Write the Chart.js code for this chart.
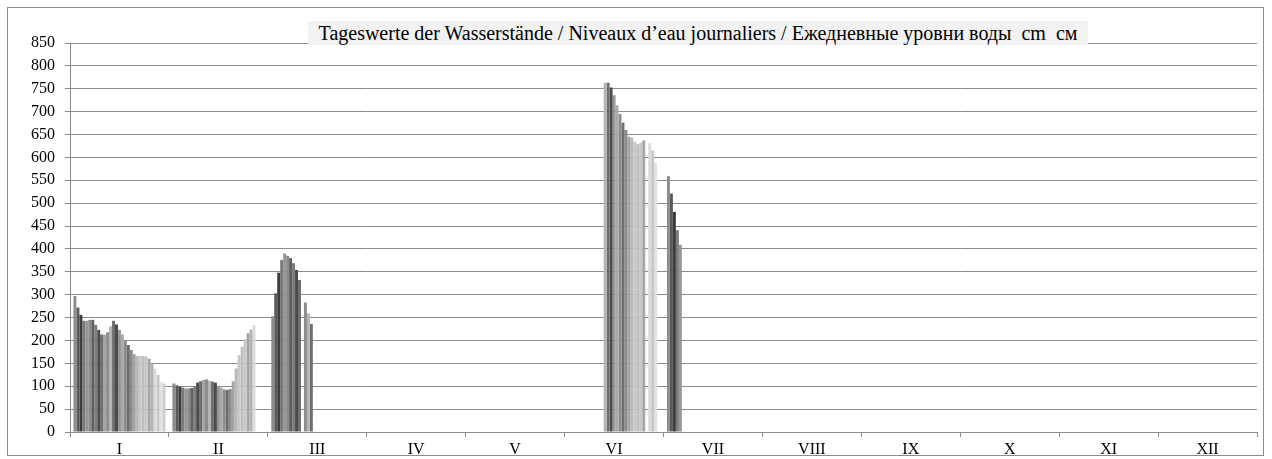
<!DOCTYPE html>
<html>
<head>
<meta charset="utf-8">
<script src="https://cdn.jsdelivr.net/npm/chart.js@4/dist/chart.umd.min.js"></script>
<style>
  body { margin: 0; background: #fff; }
  #wrap { position: relative; width: 1272px; height: 459px; }
  #frame { position: absolute; left: 7px; top: 7px; width: 1257px; height: 449px; border: 1px solid #8c8c8c; box-sizing: border-box; }
  #title {
    position: absolute; left: 308px; top: 21px; width: 780px; height: 24px;
    background: #f2f2f2; font-family: "Liberation Serif", "Times New Roman", serif;
    font-size: 20px; line-height: 24px; text-align: center; color: #000; white-space: pre;
  }
  canvas { position: absolute; left: 0; top: 0; }
</style>
</head>
<body>
<div id="wrap">
  <div id="frame"></div>
  <canvas id="levelChart" width="1272" height="459"></canvas>
  <div id="title">Tageswerte der Wasserstände / Niveaux d’eau journaliers / Ежедневные уровни воды  cm  см</div>
</div>
<script>
// month labels and daily values (cm), null = no value
const months = ['I', 'II', 'III', 'IV', 'V', 'VI', 'VII', 'VIII', 'IX', 'X', 'XI', 'XII'];

const jan = [297, 272, 256, 243, 243, 245, 245, 234, 223, 213, 213, 218, 231, 243, 235, 223,
  213, 199, 190, 179, 170, 166, 166, 166, 165, 160, 150, 139, 125, 110, 106];
const feb = [106, 102, 99, 97, 95, 95, 96, 100, 108, 111, 114, 115, 112, 110, 108, 100,
  97, 93, 92, 94, 111, 139, 168, 186, 203, 216, 224, 234];
const mar = [253, 303, 348, 376, 390, 385, 380, 369, 354, 332, null, 283, 259, 236];
const apr = [];
const may = [];
const jun = [null, null, null, null, null, null, null, null, null, null, null, null,
  763, 763, 753, 736, 714, 695, 676, 660, 645, 643, 634, 629, 632, 637, null, 631, 615, 588];
const jul = [559, 521, 481, 441, 409];
const aug = [];
const sep = [];
const oct = [];
const nov = [];
const dec = [];

const yTicks = [0, 850, 50]; // min, max, step

// one grey per day of month
const dayGreys = ['#8c8c8c', '#5a5a5a', '#3c3c3c', '#7a7a7a', '#969696', '#8a8a8a', '#5f5f5f', '#7d7d7d',
  '#4b4b4b', '#6e6e6e', '#a5a5a5', '#8c8c8c', '#b4b4b4', '#6e6e6e', '#4b4b4b', '#969696',
  '#aaaaaa', '#8c8c8c', '#6e6e6e', '#8c8c8c', '#a5a5a5', '#b9b9b9', '#c8c8c8', '#bebebe',
  '#c8c8c8', '#a5a5a5', '#b4b4b4', '#dcdcdc', '#c8c8c8', '#e1e1e1', '#cdcdcd'];

const allMonths = [jan, feb, mar, apr, may, jun, jul, aug, sep, oct, nov, dec];
const datasets = [];
for (let d = 0; d < 31; d++) {
  datasets.push({
    label: 'Tag ' + (d + 1),
    data: allMonths.map(m => (m[d] === undefined ? null : m[d])),
    backgroundColor: dayGreys[d],
    borderWidth: 0,
    categoryPercentage: 0.93,
    barPercentage: 1.0
  });
}

const font = { family: '"Liberation Serif", "Times New Roman", serif', size: 16 };

new Chart(document.getElementById('levelChart').getContext('2d'), {
  type: 'bar',
  data: { labels: months, datasets: datasets },
  options: {
    responsive: false,
    animation: false,
    layout: { padding: { left: 8, right: 15, top: 43, bottom: 0 } },
    plugins: { legend: { display: false }, tooltip: { enabled: false } },
    scales: {
      x: {
        grid: { drawOnChartArea: false, drawTicks: true, tickLength: 5, color: '#8c8c8c', offset: true },
        border: { display: true, color: '#8c8c8c', width: 1 },
        ticks: { color: '#000', font: font, padding: 3, maxRotation: 0 },
        afterFit(scale) { scale.height = 27; }
      },
      y: {
        min: yTicks[0],
        max: yTicks[1],
        grid: { color: '#8c8c8c', tickLength: 5, lineWidth: 1 },
        border: { display: true, color: '#8c8c8c', width: 1 },
        ticks: { stepSize: yTicks[2], color: '#000', font: font, padding: 10 },
        afterFit(scale) { scale.width = 62; }
      }
    }
  }
});
</script>
</body>
</html>
